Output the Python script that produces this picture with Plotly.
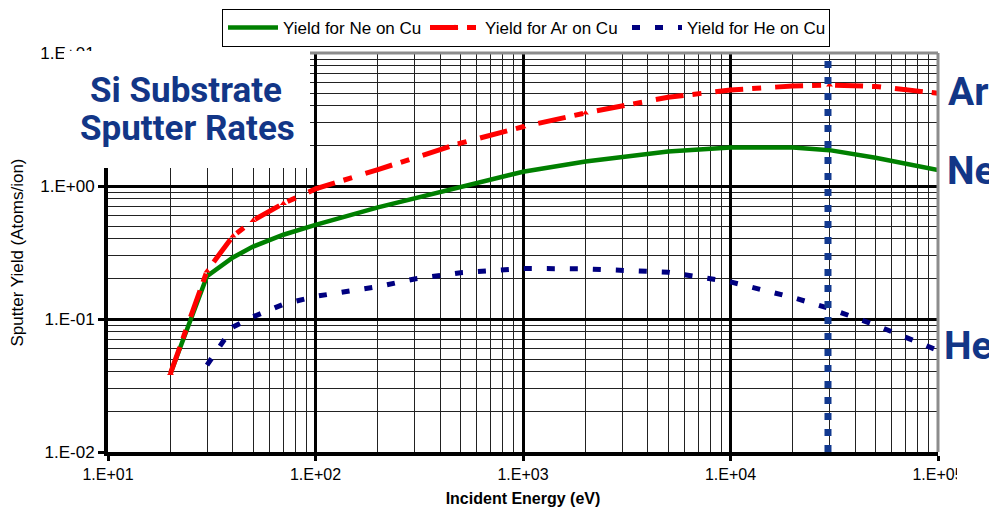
import plotly.graph_objects as go

# ---- data ----
energy_ne = [20, 30, 40, 50, 70, 100, 200, 500, 1000, 2000, 5000, 10000, 20000, 30000, 50000, 100000]
yield_ne = [0.039, 0.21, 0.29, 0.35, 0.43, 0.51, 0.69, 0.97, 1.28, 1.53, 1.82, 1.95, 1.95, 1.86, 1.63, 1.32]

energy_ar = [20, 30, 40, 50, 70, 100, 200, 500, 1000, 2000, 5000, 10000, 20000, 30000, 50000, 70000, 100000]
yield_ar = [0.039, 0.23, 0.42, 0.55, 0.74, 0.95, 1.33, 2.1, 2.79, 3.54, 4.65, 5.27, 5.65, 5.74, 5.6, 5.3, 4.98]

energy_he = [30, 35, 40, 50, 60, 70, 100, 140, 200, 300, 500, 1000, 2000, 5000, 10000, 20000, 30000, 50000, 80000, 100000]
yield_he = [0.045, 0.064, 0.087, 0.104, 0.117, 0.129, 0.148, 0.160, 0.175, 0.2, 0.223, 0.24, 0.238, 0.225, 0.19, 0.145, 0.12, 0.09, 0.066, 0.058]

marker_energy = 29500          # vertical dotted reference line
y_span = [0.01, 10]

x_tickvals = [10, 100, 1000, 10000, 100000]
x_ticktext = ["1.E+01", "1.E+02", "1.E+03", "1.E+04", "1.E+05"]
y_tickvals = [0.01, 0.1, 1, 10]
y_ticktext = ["1.E-02", "1.E-01", "1.E+00", "1.E+01"]

legend_names = ["Yield for Ne on Cu", "Yield for Ar on Cu", "Yield for He on Cu"]
side_labels = ["Ar", "Ne", "He"]
title_lines = ["Si Substrate", "Sputter Rates"]

NAVY_TXT = "#123687"

fig = go.Figure()
fig.add_trace(go.Scatter(x=energy_ne, y=yield_ne, mode="lines", name=legend_names[0],
                         line=dict(color="#008000", width=4.5)))
fig.add_trace(go.Scatter(x=energy_ar, y=yield_ar, mode="lines+markers", name=legend_names[1],
                         line=dict(color="#ff0000", width=5, dash="28px,9px,9px,14px"),
                         marker=dict(symbol="triangle-up", size=6, color="#ff0000")))
fig.add_trace(go.Scatter(x=energy_he, y=yield_he, mode="lines", name=legend_names[2],
                         line=dict(color="#000080", width=5, dash="8px,15px")))
fig.add_trace(go.Scatter(x=[marker_energy, marker_energy], y=y_span, mode="lines",
                         showlegend=False, hoverinfo="skip", cliponaxis=False,
                         line=dict(color="#12398f", width=7, dash="7px,9px")))

# The page body has an 8px margin, so the figure is made 8px smaller and
# positions below are given in window pixels (SL..SB) and converted.
OFF = 8
SL, SR, ST, SB = 108, 938, 53, 452          # plot area in window pixels
WIN_W, WIN_H = 997, 508
W, H = WIN_W - OFF, WIN_H - OFF


def px_x(p):
    return (p - SL) / (SR - SL)


def px_y(p):
    return (SB - p) / (SB - ST)


fig.update_layout(
    width=W, height=H,
    margin=dict(l=SL - OFF, r=WIN_W - SR, t=ST - OFF, b=WIN_H - SB, pad=0, autoexpand=False),
    paper_bgcolor="white", plot_bgcolor="white",
    font=dict(family="Arial, Liberation Sans, sans-serif", color="black"),
    showlegend=True,
    legend=dict(orientation="h", x=px_x(222), y=px_y(9), xanchor="left", yanchor="top",
                bordercolor="black", borderwidth=1, bgcolor="white",
                font=dict(size=17), itemwidth=50, tracegroupgap=0,
                entrywidth=137, entrywidthmode="pixels"),
    xaxis=dict(type="log", range=[1, 5], tickvals=x_tickvals, ticktext=x_ticktext,
               automargin=False,
               showline=True, linecolor="black", linewidth=4,
               ticks="outside", ticklen=5, tickwidth=3, tickcolor="black",
               showgrid=True, gridcolor="black", gridwidth=3,
               minor=dict(dtick="D1", showgrid=True, gridcolor="#222222", gridwidth=1, ticks=""),
               tickfont=dict(size=16), zeroline=False,
               title=dict(text="<b>Incident Energy (eV)</b>", font=dict(size=16), standoff=12)),
    yaxis=dict(type="log", range=[-2, 1], tickvals=y_tickvals, ticktext=y_ticktext,
               automargin=False,
               showline=True, linecolor="black", linewidth=4,
               ticks="outside", ticklen=6, tickwidth=3, tickcolor="black",
               showgrid=True, gridcolor="black", gridwidth=3,
               minor=dict(dtick="D1", showgrid=True, gridcolor="#222222", gridwidth=1, ticks=""),
               tickfont=dict(size=17), zeroline=False,
               title=dict(text="Sputter Yield (Atoms/ion)", font=dict(size=17), standoff=18)),
)

shapes = [
    # grey frame top and right
    dict(type="line", xref="paper", yref="paper", x0=0, x1=1, y0=1, y1=1,
         line=dict(color="#8c8c8c", width=3), layer="above"),
    dict(type="line", xref="paper", yref="paper", x0=1, x1=1, y0=0, y1=1,
         line=dict(color="#8c8c8c", width=3), layer="above"),
    # white panel behind the title overlay
    dict(type="rect", xref="paper", yref="paper", x0=px_x(64), x1=px_x(310), y0=px_y(168), y1=px_y(51),
         fillcolor="white", line=dict(width=0), layer="above"),
    # cropped right edge of picture
    dict(type="rect", xref="paper", yref="paper", x0=px_x(957), x1=px_x(1000), y0=px_y(456), y1=px_y(508),
         fillcolor="white", line=dict(width=0), layer="above"),
]
fig.update_layout(shapes=shapes)

BIG = "Roboto, Liberation Sans Narrow, Arial Narrow, sans-serif"
ann = [
    dict(text="<b>%s</b>" % title_lines[0], x=px_x(186), y=px_y(90)),
    dict(text="<b>%s</b>" % title_lines[1], x=px_x(187), y=px_y(128)),
]
for a in ann:
    a.update(xref="paper", yref="paper", xanchor="center", yanchor="middle", showarrow=False,
             font=dict(family=BIG, size=35, color=NAVY_TXT))
side_pos = {"Ar": (946, 92), "Ne": (945, 171), "He": (942, 346)}
for lab in side_labels:
    sx, sy = side_pos[lab]
    ann.append(dict(text="<b>%s</b>" % lab, x=px_x(sx), y=px_y(sy), xref="paper", yref="paper",
                    xanchor="left", yanchor="middle", showarrow=False,
                    font=dict(family=BIG, size=39, color=NAVY_TXT)))
fig.update_layout(annotations=ann)

fig.write_html("out.html")
